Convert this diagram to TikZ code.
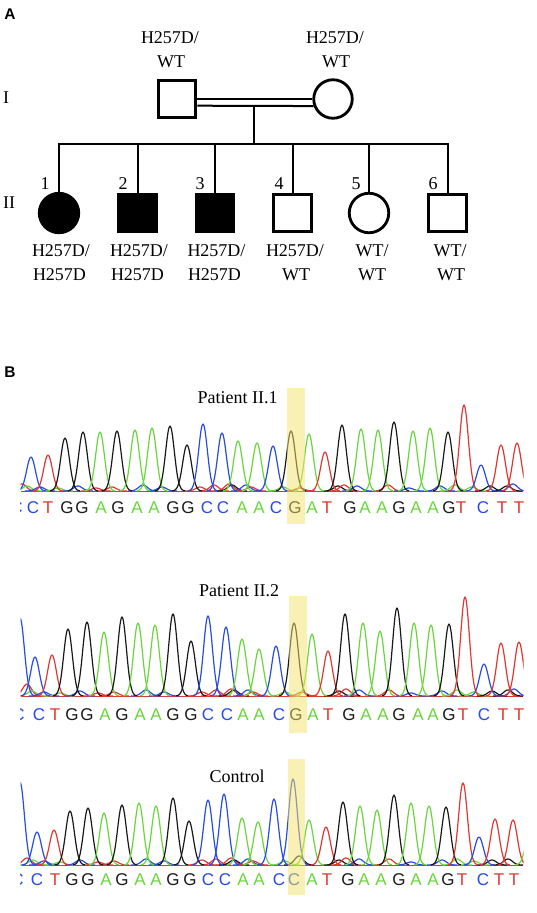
\documentclass[tikz,border=0pt]{standalone}
\usepackage{fontspec}
\setmainfont{Liberation Serif}
\setsansfont{Liberation Sans}
\usetikzlibrary{calc}
\definecolor{chK}{RGB}{25,25,25}
\definecolor{chG}{RGB}{25,25,25}
\definecolor{chA}{RGB}{105,215,60}
\definecolor{chC}{RGB}{40,75,225}
\definecolor{chT}{RGB}{225,55,50}
\definecolor{hl}{RGB}{245,228,105}
\newcommand\chromtrace[2]{%
  \foreach \pc/\ph/\pcol in {#2}{%
    \pgfmathsetmacro\plo{\pc-15}\pgfmathsetmacro\phi{\pc+15}%
    \draw[trace,\pcol] plot[domain=\plo:\phi,samples=31,smooth] (\x,{#1-\ph*exp(-((\x-\pc)*(\x-\pc))/38)});
  }}
\newcommand\seqrow[3]{% prefix, y, list
  \foreach \px/\nb [count=\i] in {#3}{%
    \edef\tmp{\noexpand\node[nuc,text=ch\nb] (#1\i) at (\px,#2) {\nb};}\tmp
  }}
\newcommand\baselines[1]{%
  \foreach \pcol in {chA,chC,chK,chT}{\draw[trace,\pcol,line width=1pt] (21,#1) -- (523,#1);}}
\begin{document}
\begin{tikzpicture}[x=1pt,y=-1pt,
  male/.style={draw,rectangle,line width=3pt,minimum size=37.5pt,inner sep=0pt},
  female/.style={draw,circle,line width=2.8pt,minimum size=38.5pt,inner sep=0pt},
  aff/.style={fill=black},
  ped/.style={line width=2pt,line cap=rect},
  lab/.style={font=\fontsize{18}{18}\selectfont,anchor=base,inner sep=0pt},
  panel/.style={font=\fontsize{15.5}{15.5}\sffamily\bfseries,anchor=base,inner sep=0pt},
  nuc/.style={font=\fontsize{17}{17}\sffamily,inner sep=0pt},
  trace/.style={line width=1.2pt,line join=round}]
\useasboundingbox (0,0) rectangle (536,913);
\fill[white] (0,0) rectangle (536,913);

% ---------------- Panel A : pedigree ----------------
\node[panel] (pA) at (10,19.5) {A};
\node[lab] (gI) at (6,103) {I};
\node[lab] (gII) at (9,208) {II};

\node[male] (f) at (177,99) {};
\node[female] (m) at (333,99) {};
\node[lab] (fl1) at (170,43.5) {H257D/};
\node[lab] (fl2) at (171,67) {WT};
\node[lab] (ml1) at (335,43.5) {H257D/};
\node[lab] (ml2) at (336,67) {WT};

\draw[line width=2pt] (f.east) -- (m.west);
\draw[line width=2pt] ($(f.east)+(0,6.7)$) -- (m.200);
\coordinate (mj) at (254,105.7);
\coordinate (sj) at (254,144);
\draw[ped] (mj) -- (sj);

\node[female,aff,minimum size=39.5pt] (c1) at (59,213) {};
\node[male,aff] (c2) at (137.5,213) {};
\node[male,aff] (c3) at (215,213) {};
\node[male] (c4) at (292.5,213) {};
\node[female,minimum size=39.5pt] (c5) at (369,213) {};
\node[male] (c6) at (447.5,213) {};

\draw[ped] (c1 |- sj) -- (c6 |- sj);
\foreach \n in {c1,c2,c3,c4,c5,c6} \draw[ped] (\n |- sj) -- (\n);

\node[lab] (n1) at (45,189) {1};
\node[lab] (n2) at (123,189) {2};
\node[lab] (n3) at (200,189) {3};
\node[lab] (n4) at (279,189) {4};
\node[lab] (n5) at (356,189) {5};
\node[lab] (n6) at (433,189) {6};

\node[lab] (g1a) at (61,256) {H257D/};
\node[lab] (g1b) at (59.5,280) {H257D};
\node[lab] (g2a) at (139,256) {H257D/};
\node[lab] (g2b) at (137.5,280) {H257D};
\node[lab] (g3a) at (216.5,256) {H257D/};
\node[lab] (g3b) at (214.5,280) {H257D};
\node[lab] (g4a) at (295,256) {H257D/};
\node[lab] (g4b) at (296,280) {WT};
\node[lab] (g5a) at (372,256) {WT/};
\node[lab] (g5b) at (372,280) {WT};
\node[lab] (g6a) at (450,256) {WT/};
\node[lab] (g6b) at (451,280) {WT};

% ---------------- Panel B : chromatograms ----------------
\node[panel] (pB) at (10,377) {B};
\node[lab] (t1) at (237.5,403) {Patient II.1};
\node[lab] (t2) at (239,596) {Patient II.2};
\node[lab] (t3) at (237,782.5) {Control};

% chromatogram 1
\begin{scope}
\clip (20.5,380) rectangle (523.5,530);
\baselines{491}
\chromtrace{491}{22/7/chT,27/5/chA,40/4/chC,58/3/chA,78/5/chC,96/3/chT,112/4/chT,143/6/chC,162/4/chC,200/4/chT,214/6/chT,229/7/chT,232/6/chK,246/6/chC,251/4/chT,283/4/chA,300/3/chT,338/5/chK,344/6/chT,357/5/chC,388/6/chT,409/3/chC,440/5/chC,455/6/chA,472/4/chA,490/5/chK,507/5/chK,513/7/chC}
\chromtrace{491}{31/34/chC,48/36/chT,65/53/chK,83/59/chK,100/59/chA,117/60/chK,135/61/chA,152/63/chA,170/65/chK,187/46/chK,203/67/chC,222/58/chC,238/50/chA,257/48/chA,273/45/chC,291/60/chK,309/57/chA,325/39/chT,342/66/chK,361/62/chA,378/61/chA,394/69/chK,413/60/chA,430/63/chA,448/59/chK,464/86/chT,481/26/chC,501/46/chT,517/48/chT}
\seqrow{sa}{508}{16.5/C,33/C,48/T,67/G,82/G,101/A,118/G,137/A,154/A,173/G,188/G,207/C,223/C,242/A,259/A,276/C,295/G,312/A,327/T,350/G,365/A,382/A,399/G,416/A,433/A,449/G,461/T,483/C,502/T,519/T}
\end{scope}
\fill[hl,fill opacity=0.5] (287,388) rectangle (305,524);

% chromatogram 2
\begin{scope}
\clip (20.5,570) rectangle (523.5,735);
\baselines{696}
\chromtrace{696}{27/12/chT,32/5/chA,44/4/chC,60/3/chA,80/5/chC,98/3/chT,114/4/chT,146/6/chC,164/4/chC,202/4/chT,216/6/chT,231/7/chT,234/6/chK,248/6/chC,253/4/chT,285/4/chA,302/4/chT,339/5/chK,346/7/chT,359/6/chC,389/6/chT,411/3/chC,442/5/chC,457/6/chA,474/4/chA,492/5/chK,508/6/chK,514/7/chC}
\chromtrace{696}{20/78/chC,35/39/chC,52/41/chT,68/67/chK,87/74/chK,104/64/chA,122/79/chK,138/73/chA,155/71/chA,173/82/chK,191/55/chK,208/80/chC,226/69/chC,242/57/chA,259/47/chA,276/50/chC,294/73/chK,312/62/chA,328/45/chT,345/82/chK,363/73/chA,380/65/chA,397/88/chK,414/73/chA,431/71/chA,449/72/chK,465/99/chT,484/32/chC,501/53/chT,519/54/chT}
\seqrow{sb}{715}{18.5/C,39/C,55/T,72/G,87/G,105/A,122/G,140/A,156/A,173/G,191/G,208/C,227/C,243/A,259/A,279/C,296/G,313/A,328/T,349/G,366/A,383/A,399/G,418/A,433/A,449/G,463/T,484/C,503/T,519/T}
\end{scope}
\fill[hl,fill opacity=0.5] (289,596) rectangle (307,733);

% chromatogram 3
\begin{scope}
\clip (20.5,745) rectangle (523.5,900);
\baselines{865}
\chromtrace{865}{27/7/chT,33/5/chA,44/4/chC,60/3/chA,80/5/chC,98/3/chT,114/4/chT,146/6/chC,164/4/chC,202/5/chT,216/6/chT,231/7/chT,234/5/chK,248/6/chC,253/4/chT,285/4/chA,299/9/chK,339/5/chK,346/7/chT,359/6/chC,389/6/chT,411/3/chC,442/5/chC,457/6/chA,474/4/chA,492/5/chK,508/6/chK}
\chromtrace{865}{20/83/chC,37/33/chC,54/35/chT,70/54/chK,88/57/chK,104/52/chA,122/60/chK,139/62/chA,156/59/chA,173/67/chK,189/44/chK,208/65/chC,224/71/chC,242/47/chA,258/43/chA,274/66/chC,293/86/chC,309/45/chA,326/38/chT,343/63/chK,360/59/chA,377/55/chA,394/70/chK,411/62/chA,429/59/chA,446/58/chK,463/82/chT,479/28/chC,495/46/chT,513/45/chT,530/35/chA}
\seqrow{sc}{880}{17.5/C,37/C,55/T,72/G,88/G,106/A,122/G,140/A,156/A,173/G,190/G,208/C,225/C,243/A,259/A,279/C,294/C,312/A,327/T,348/G,364/A,381/A,399/G,416/A,433/A,448/G,462/T,483/C,499/T,514/T}
\end{scope}
\fill[hl,fill opacity=0.5] (288,759) rectangle (305,895);
\end{tikzpicture}
\end{document}
